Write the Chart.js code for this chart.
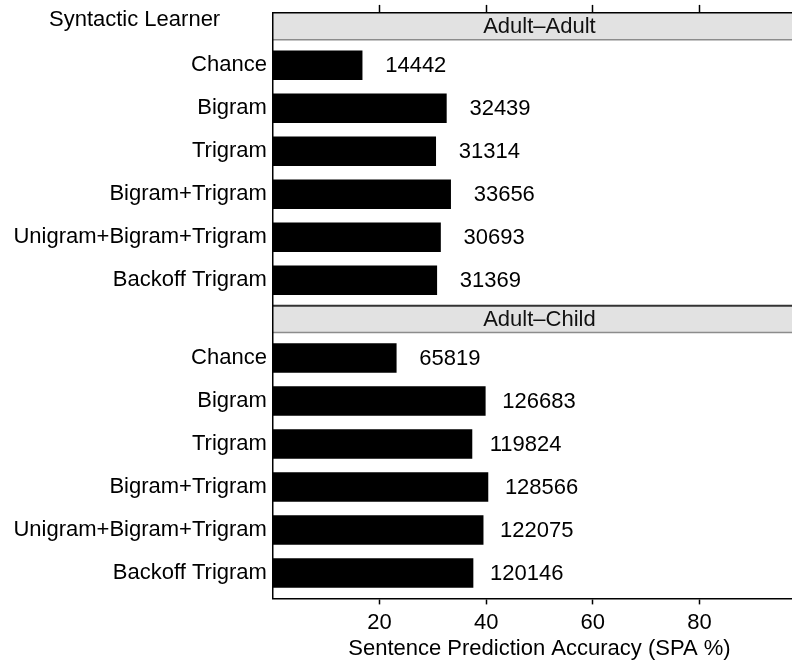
<!DOCTYPE html>
<html>
<head>
<meta charset="utf-8">
<title>Sentence Prediction Accuracy by Syntactic Learner</title>
<script src="https://cdn.jsdelivr.net/npm/chart.js@4.4.1/dist/chart.umd.min.js"></script>
<style>
  html, body { margin: 0; padding: 0; background: #fff; overflow: hidden; }
  #wrap { width: 806px; height: 662px; }
</style>
</head>
<body>
<div id="wrap"><canvas id="spaChart" width="806" height="662"></canvas></div>
<script>
// Data
const learners = ['Chance', 'Bigram', 'Trigram', 'Bigram+Trigram', 'Unigram+Bigram+Trigram', 'Backoff Trigram'];
const panelNames = ['Adult\u2013Adult', 'Adult\u2013Child'];
const adultAdultSPA = [16.8, 32.6, 30.6, 33.4, 31.5, 30.8];
const adultChildSPA = [23.2, 39.9, 37.4, 40.4, 39.5, 37.6];
const adultAdultCounts = [14442, 32439, 31314, 33656, 30693, 31369];
const adultChildCounts = [65819, 126683, 119824, 128566, 122075, 120146];
const xTicks = [20, 40, 60, 80];

const FONT = '"Liberation Sans", Arial, Helvetica, sans-serif';
const FONT_SIZE = 22;
const LABEL_SHIFT = 10;   // count labels sit 10 % to the right of the bar end

// vertical panel layout, in y-axis units (one unit = one bar slot)
const PAD = 0.59;
const STRIP = 0.625;
const last = learners.length - 1;
const panel2Top = last + PAD;
const childOffset = panel2Top + STRIP + PAD;
const yMin = -PAD - STRIP;
const yMax = childOffset + last + PAD;

const adultPos = learners.map((_, i) => i);
const childPos = learners.map((_, i) => i + childOffset);
const tickPos = adultPos.concat(childPos);
const tickNames = learners.concat(learners);

Chart.defaults.font.family = FONT;
Chart.defaults.font.size = FONT_SIZE;
Chart.defaults.color = '#000';

const panelPlugin = {
    id: 'panels',
    beforeDraw(chart) {
        const { ctx, chartArea } = chart;
        const y = chart.scales.y;
        const strips = [
            [yMin, -PAD, panelNames[0]],
            [panel2Top, panel2Top + STRIP, panelNames[1]]
        ];
        ctx.save();
        strips.forEach(([from, to, name], k) => {
            const top = y.getPixelForValue(from);
            const bottom = y.getPixelForValue(to);
            ctx.fillStyle = '#e2e2e2';
            ctx.fillRect(chartArea.left, top, chartArea.right - chartArea.left, bottom - top);
            ctx.strokeStyle = '#8c8c8c';
            ctx.lineWidth = 1.5;
            ctx.beginPath();
            ctx.moveTo(chartArea.left, bottom);
            ctx.lineTo(chartArea.right, bottom);
            ctx.stroke();
            if (k > 0) {
                ctx.strokeStyle = '#333';
                ctx.lineWidth = 2;
                ctx.beginPath();
                ctx.moveTo(chartArea.left, top);
                ctx.lineTo(chartArea.right, top);
                ctx.stroke();
            }
            ctx.fillStyle = '#111';
            ctx.font = FONT_SIZE + 'px ' + FONT;
            ctx.textAlign = 'center';
            ctx.textBaseline = 'middle';
            ctx.fillText(name, (chartArea.left + chartArea.right) / 2, (top + bottom) / 2 + 1);
        });
        ctx.restore();
    },
    afterDraw(chart) {
        const { ctx } = chart;
        const x = chart.scales.x;
        ctx.save();
        ctx.fillStyle = '#000';
        ctx.font = FONT_SIZE + 'px ' + FONT;
        ctx.textBaseline = 'middle';

        // y axis heading, written horizontally above the labels
        ctx.textAlign = 'left';
        ctx.fillText('Syntactic Learner', 49, 20);

        // number of sentences next to each bar
        ctx.textAlign = 'center';
        const counts = [adultAdultCounts, adultChildCounts];
        chart.data.datasets.forEach((ds, d) => {
            const meta = chart.getDatasetMeta(d);
            meta.data.forEach((bar, i) => {
                const px = x.getPixelForValue(ds.data[i].x + LABEL_SHIFT);
                ctx.fillText(String(counts[d][i]), px, bar.y + 1);
            });
        });
        ctx.restore();
    }
};

const toPoints = (values, pos) => values.map((v, i) => ({ x: v, y: pos[i] }));

new Chart(document.getElementById('spaChart'), {
    type: 'bar',
    data: {
        datasets: [
            { label: panelNames[0], data: toPoints(adultAdultSPA, adultPos), backgroundColor: '#000' },
            { label: panelNames[1], data: toPoints(adultChildSPA, childPos), backgroundColor: '#000' }
        ]
    },
    options: {
        indexAxis: 'y',
        responsive: false,
        animation: false,
        layout: { padding: 0 },
        datasets: {
            bar: { grouped: false, categoryPercentage: 1, barPercentage: 0.686, borderWidth: 0 }
        },
        plugins: {
            legend: { display: false },
            tooltip: { enabled: false }
        },
        scales: {
            x: {
                type: 'linear',
                position: 'bottom',
                min: 0,
                max: 100,
                afterBuildTicks: (scale) => { scale.ticks = xTicks.map(v => ({ value: v })); },
                afterFit: (scale) => { scale.height = 63.6; scale.paddingLeft = 0; scale.paddingRight = 0; },
                grid: { drawOnChartArea: false, drawTicks: true, tickLength: 6, tickColor: '#000', tickWidth: 1.5 },
                border: { display: true, color: '#000', width: 1.5 },
                ticks: { padding: 5, color: '#000' },
                title: {
                    display: true,
                    text: 'Sentence Prediction Accuracy (SPA %)',
                    color: '#000',
                    padding: { top: 0, bottom: 0 }
                }
            },
            x2: {
                type: 'linear',
                position: 'top',
                min: 0,
                max: 100,
                afterBuildTicks: (scale) => { scale.ticks = xTicks.map(v => ({ value: v })); },
                afterFit: (scale) => { scale.height = 12.9; scale.paddingLeft = 0; scale.paddingRight = 0; },
                grid: { drawOnChartArea: false, drawTicks: true, tickLength: 8, tickColor: '#000', tickWidth: 1.5 },
                border: { display: true, color: '#000', width: 1.5 },
                ticks: { display: false }
            },
            y: {
                type: 'linear',
                reverse: true,
                offset: false,
                min: yMin,
                max: yMax,
                afterBuildTicks: (scale) => { scale.ticks = tickPos.map(v => ({ value: v })); },
                afterFit: (scale) => { scale.width = 272.9; scale.paddingTop = 0; scale.paddingBottom = 0; },
                grid: { display: false, drawTicks: false },
                border: { display: true, color: '#000', width: 1.5 },
                ticks: {
                    autoSkip: false,
                    padding: 6,
                    color: '#000',
                    callback: (value, index) => tickNames[index]
                }
            }
        }
    },
    plugins: [panelPlugin]
});
</script>
</body>
</html>
